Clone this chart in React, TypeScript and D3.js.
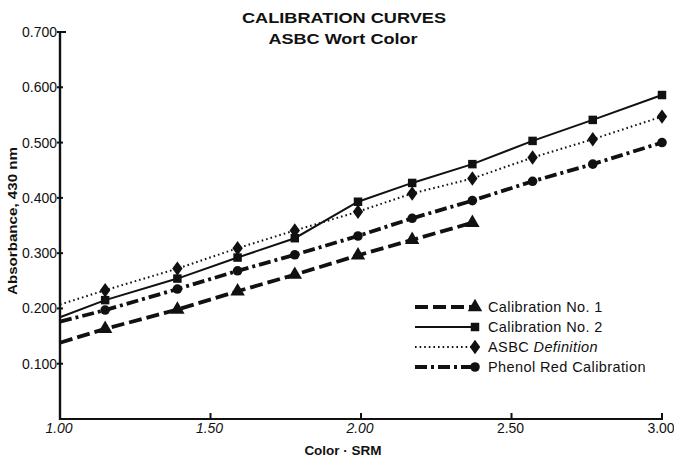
import React from "react";
import * as d3 from "d3";

const xValues = [1.0, 1.15, 1.39, 1.59, 1.78, 1.99, 2.17, 2.37, 2.57, 2.77, 3.0];
const cal1 = [0.138, 0.163, 0.198, 0.231, 0.261, 0.296, 0.324, 0.355];
const cal2 = [0.184, 0.215, 0.254, 0.292, 0.327, 0.393, 0.427, 0.461, 0.503, 0.541, 0.586];
const asbc = [0.207, 0.233, 0.272, 0.309, 0.341, 0.375, 0.408, 0.435, 0.473, 0.506, 0.547];
const phenol = [0.176, 0.197, 0.235, 0.268, 0.297, 0.331, 0.363, 0.395, 0.43, 0.461, 0.5];

const yTicks = [0.1, 0.2, 0.3, 0.4, 0.5, 0.6, 0.7];
const xTicks = [1.0, 1.5, 2.0, 2.5, 3.0];
const italicXTicks = [1.0, 1.5, 2.0];

const seriesNames = ["Calibration No. 1", "Calibration No. 2", "ASBC Definition", "Phenol Red Calibration"];

const W = 674;
const H = 459;
const FONT = "'Liberation Sans', Arial, Helvetica, sans-serif";

export default function App() {
  const x = d3.scaleLinear().domain([1, 3]).range([60, 662]);
  const y = d3.scaleLinear().domain([0, 0.7]).range([419, 32]);

  const series = [
    { name: seriesNames[0], values: cal1, dash: "13,5", width: 3.8, sym: d3.symbolTriangle, size: 90 },
    { name: seriesNames[1], values: cal2, dash: "none", width: 2, sym: d3.symbolSquare, size: 72 },
    { name: seriesNames[2], values: asbc, dash: "1.6,3", width: 2, sym: d3.symbolDiamond, size: 60 },
    { name: seriesNames[3], values: phenol, dash: "12,4,3,4", width: 3.8, sym: d3.symbolCircle, size: 72 },
  ];

  const lineGen = d3
    .line<[number, number]>()
    .x((d) => x(d[0]))
    .y((d) => y(d[1]));

  const legendY = [307, 327, 347, 367];
  const symTransform = (s: any) => (s.sym === d3.symbolDiamond ? " scale(1.25,1)" : "");

  return (
    <svg
      width={W}
      height={H}
      viewBox={`0 0 ${W} ${H}`}
      style={{ position: "absolute", left: 0, top: 0, background: "#fff" }}
      fontFamily={FONT}
    >
      <rect x={0} y={0} width={W} height={H} fill="#fff" />
      {/* Title */}
      <text x={344} y={23} textAnchor="middle" fontWeight="bold" fontSize={15.5} textLength={204} lengthAdjust="spacingAndGlyphs" fill="#111">
        CALIBRATION CURVES
      </text>
      <text x={343} y={43.5} textAnchor="middle" fontWeight="bold" fontSize={15.5} textLength={149} lengthAdjust="spacingAndGlyphs" fill="#111">
        ASBC Wort Color
      </text>

      {/* Axes */}
      <line x1={x(1)} x2={x(1)} y1={y(0.7) - 1} y2={y(0) + 1} stroke="#111" strokeWidth={2.4} />
      <line x1={x(1) - 1} x2={x(3) + 1} y1={y(0)} y2={y(0)} stroke="#111" strokeWidth={2.2} />
      {yTicks.map((t) => (
        <g key={"yt" + t}>
          <line x1={x(1) - 3} x2={x(1) + (t === 0.7 ? 6 : 3)} y1={y(t)} y2={y(t)} stroke="#111" strokeWidth={2} />
          <text x={57} y={y(t) + 5} textAnchor="end" fontSize={14} fill="#111">
            {t.toFixed(3)}
          </text>
        </g>
      ))}
      {xTicks.map((t) => (
        <g key={"xt" + t}>
          <line x1={x(t)} x2={x(t)} y1={y(0)} y2={y(0) - 6} stroke="#111" strokeWidth={2} />
          <text
            x={x(t) - 1}
            y={433}
            textAnchor="middle"
            fontSize={14}
            fontStyle={italicXTicks.includes(t) ? "italic" : "normal"}
            fill="#111"
          >
            {t.toFixed(2)}
          </text>
        </g>
      ))}
      <text x={343} y={455} textAnchor="middle" fontWeight="bold" fontSize={13.5} fill="#111">
        Color · SRM
      </text>
      <text
        transform={`translate(17,221) rotate(-90)`}
        textAnchor="middle"
        fontWeight="bold"
        fontSize={13.5}
        textLength={148}
        lengthAdjust="spacingAndGlyphs"
        fill="#111"
      >
        Absorbance,  430  nm
      </text>

      {/* Series */}
      {series.map((s) => {
        const pts: [number, number][] = s.values.map((v, i) => [xValues[i], v]);
        const symPath = d3.symbol().type(s.sym).size(s.size)() as string;
        return (
          <g key={s.name}>
            <path
              d={lineGen(pts) as string}
              fill="none"
              stroke="#111"
              strokeWidth={s.width}
              strokeDasharray={s.dash}
            />
            {pts.slice(1).map((p, i) => (
              <path
                key={i}
                d={symPath}
                transform={`translate(${x(p[0])},${y(p[1])})${symTransform(s)}`}
                fill="#111"
              />
            ))}
          </g>
        );
      })}

      {/* Legend */}
      {series.map((s, i) => {
        const ly = legendY[i];
        const symPath = d3.symbol().type(s.sym).size(s.size)() as string;
        return (
          <g key={"lg" + i}>
            <line x1={415} x2={473} y1={ly} y2={ly} stroke="#111" strokeWidth={s.width} strokeDasharray={s.dash} />
            <path d={symPath} transform={`translate(475,${ly})${symTransform(s)}`} fill="#111" />
            <text x={488} y={ly + 5} fontSize={14.5} fill="#111" letterSpacing={0.4}>
              {i === 2 ? (
                <>
                  ASBC <tspan fontStyle="italic">Definition</tspan>
                </>
              ) : (
                s.name
              )}
            </text>
          </g>
        );
      })}
    </svg>
  );
}
